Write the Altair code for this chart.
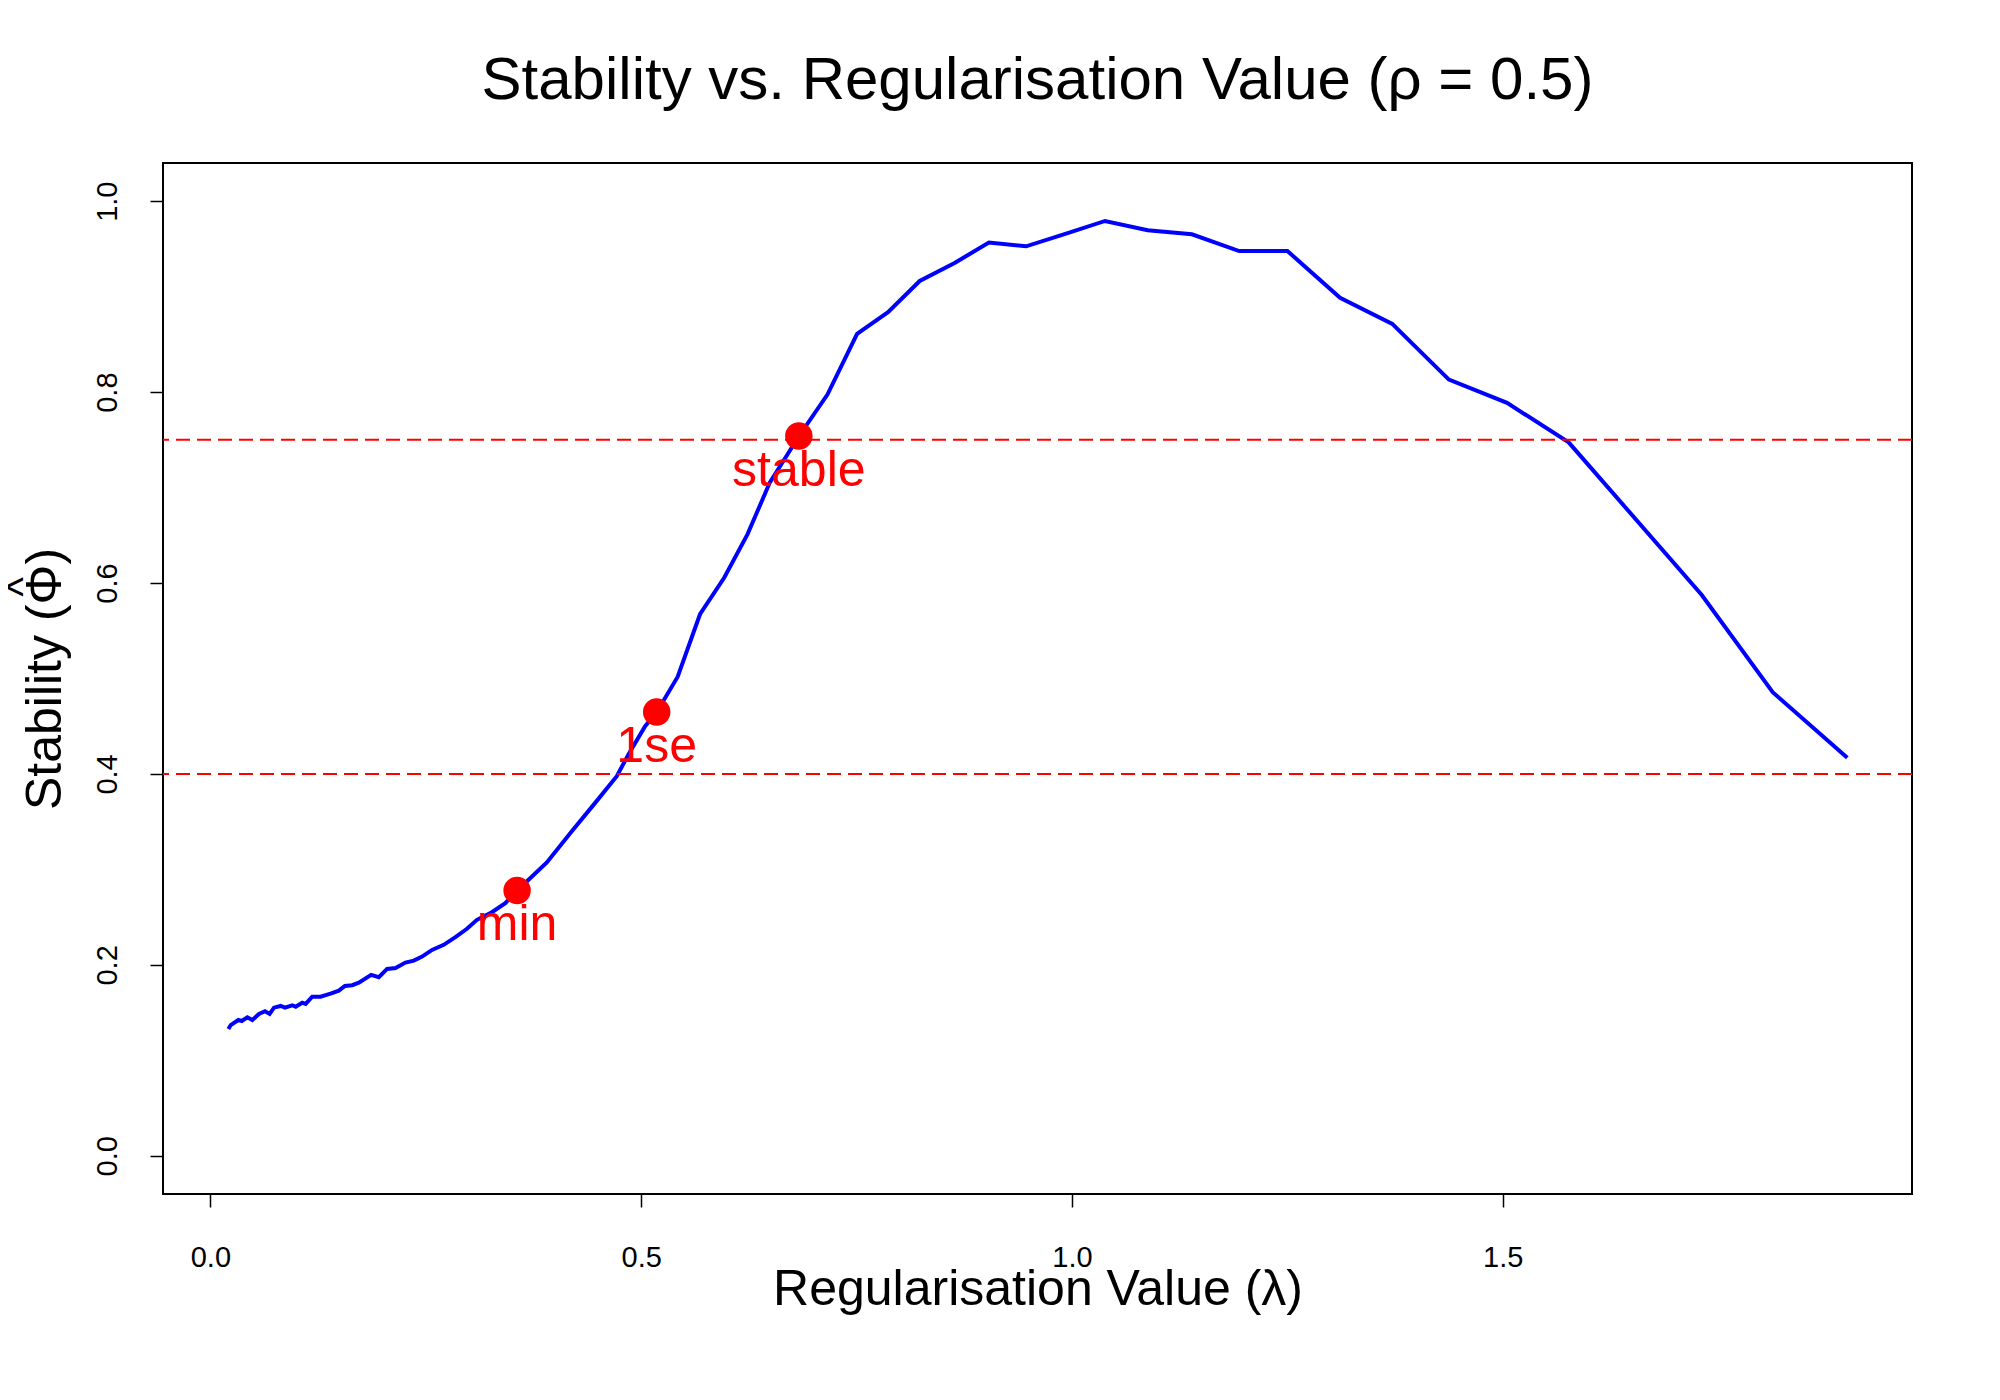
import altair as alt
import pandas as pd

# ---- data ----
lam = [0.0209, 0.0236, 0.0324, 0.0364, 0.0429, 0.0487, 0.0564, 0.0634, 0.0688, 0.0738,
       0.0816, 0.0866, 0.0950, 0.0990, 0.1066, 0.1106, 0.1182, 0.1279, 0.1395, 0.1491,
       0.1561, 0.1646, 0.1723, 0.1866, 0.1955, 0.2051, 0.2149, 0.2264, 0.2361, 0.2457,
       0.2573, 0.2708, 0.2844, 0.2978, 0.3094, 0.3250, 0.3423, 0.3560, 0.3693, 0.3905,
       0.4195, 0.4466, 0.4717, 0.4852, 0.5046, 0.5180, 0.5424, 0.5683, 0.5965, 0.6235,
       0.6494, 0.6834, 0.7162, 0.7506, 0.7865, 0.8233, 0.8638, 0.9036, 0.9468, 0.9932,
       1.0384, 1.0879, 1.1392, 1.1941, 1.2501, 1.3112, 1.3718, 1.4375, 1.5050, 1.5765,
       1.7310, 1.8133, 1.8999]
stab = [0.1328, 0.1370, 0.1423, 0.1412, 0.1451, 0.1423, 0.1486, 0.1514, 0.1486, 0.1552,
        0.1570, 0.1552, 0.1577, 0.1562, 0.1604, 0.1591, 0.1667, 0.1667, 0.1699, 0.1730,
        0.1780, 0.1787, 0.1814, 0.1895, 0.1871, 0.1958, 0.1968, 0.2024, 0.2045, 0.2087,
        0.2157, 0.2210, 0.2291, 0.2378, 0.2472, 0.2542, 0.2647, 0.2780, 0.2892, 0.3073,
        0.3399, 0.3697, 0.3976, 0.4204, 0.4500, 0.4647, 0.5019, 0.5673, 0.6058, 0.6512,
        0.7055, 0.7543, 0.7974, 0.8611, 0.8838, 0.9164, 0.9353, 0.9566, 0.9527, 0.9660,
        0.9793, 0.9695, 0.9653, 0.9478, 0.9478, 0.8988, 0.8715, 0.8131, 0.7887, 0.7474,
        0.5875, 0.4857, 0.4169]

sel_names = ["min", "1se", "stable"]
sel_lam = [0.356, 0.518, 0.683]
sel_stab = [0.278, 0.465, 0.754]

thresholds = [0.4, 0.75]

x_ticks = [0.0, 0.5, 1.0, 1.5]
y_ticks = [0.0, 0.2, 0.4, 0.6, 0.8, 1.0]

hat_text = ["^"]   # hat over Φ in the y-axis title

curve = pd.DataFrame({"lambda": lam, "stability": stab})
sel = pd.DataFrame({"name": sel_names, "lambda": sel_lam, "stability": sel_stab})
thr = pd.DataFrame({"y": thresholds})
hat = pd.DataFrame({"t": hat_text})

FONT = "Liberation Sans"
W, H = 1749, 1031

xscale = alt.Scale(domain=[-0.055, 1.975], nice=False, zero=False)
yscale = alt.Scale(domain=[-0.04, 1.04], nice=False, zero=False)

xaxis = alt.Axis(
    values=x_ticks, format=".1f", title="Regularisation Value (λ)", grid=False,
    domain=False, ticks=True, tickColor="black", tickSize=13, tickWidth=1.5,
    labelFont=FONT, labelFontSize=29, labelColor="black", labelPadding=36,
    labelBaseline="top", labelAlign="center", labelFlush=False, labelOverlap=False,
    titleFont=FONT, titleFontSize=50, titleFontWeight="normal", titleColor="black",
    titleBaseline="alphabetic", titleAlign="center", titleAnchor="middle",
    titleX=W / 2, titleY=110,
)
yaxis = alt.Axis(
    values=y_ticks, format=".1f", title="Stability (Φ)", grid=False,
    domain=False, ticks=True, tickColor="black", tickSize=13, tickWidth=1.5,
    labelFont=FONT, labelFontSize=29, labelColor="black", labelPadding=34,
    labelAngle=270, labelBaseline="alphabetic", labelAlign="center",
    labelFlush=False, labelOverlap=False,
    titleFont=FONT, titleFontSize=50, titleFontWeight="normal", titleColor="black",
    titleAngle=270, titleBaseline="alphabetic", titleAlign="center",
    titleX=-103, titleY=H / 2,
)

line = alt.Chart(curve).mark_line(color="#0000FF", strokeWidth=4).encode(
    x=alt.X("lambda:Q", scale=xscale, axis=xaxis),
    y=alt.Y("stability:Q", scale=yscale, axis=yaxis),
    order="lambda:Q",
)

rules = alt.Chart(thr).mark_rule(color="#FF0000", strokeWidth=2, strokeDash=[14, 7]).encode(
    y=alt.Y("y:Q", scale=yscale, axis=yaxis),
)

pts = alt.Chart(sel).mark_circle(color="#FF0000", size=755, opacity=1).encode(
    x=alt.X("lambda:Q", scale=xscale, axis=xaxis),
    y=alt.Y("stability:Q", scale=yscale, axis=yaxis),
)

labels = alt.Chart(sel).mark_text(
    color="#FF0000", font=FONT, fontSize=50, baseline="alphabetic", align="center", dy=50
).encode(
    x=alt.X("lambda:Q", scale=xscale, axis=xaxis),
    y=alt.Y("stability:Q", scale=yscale, axis=yaxis),
    text="name:N",
)

# the circumflex of the axis title (Φ-hat), placed over the Φ of the rotated title
hat_mark = alt.Chart(hat).mark_text(
    color="black", font=FONT, fontSize=42, angle=270, align="center", baseline="alphabetic"
).encode(
    x=alt.value(-126), y=alt.value(424), text="t:N",
)

chart = alt.layer(line, rules, pts, labels, hat_mark).properties(
    width=W, height=H,
    title=alt.TitleParams(
        text="Stability vs. Regularisation Value (ρ = 0.5)",
        font=FONT, fontSize=60, fontWeight="normal", color="black",
        anchor="middle", baseline="alphabetic", offset=4,
    ),
    autosize=alt.AutoSizeParams(type="none"),
    padding={"left": 155, "top": 155, "right": 80, "bottom": 190},
    background="white",
).configure_view(stroke="black", strokeWidth=2)

chart.save("out.html", embed_options={"renderer": "svg", "actions": False})
